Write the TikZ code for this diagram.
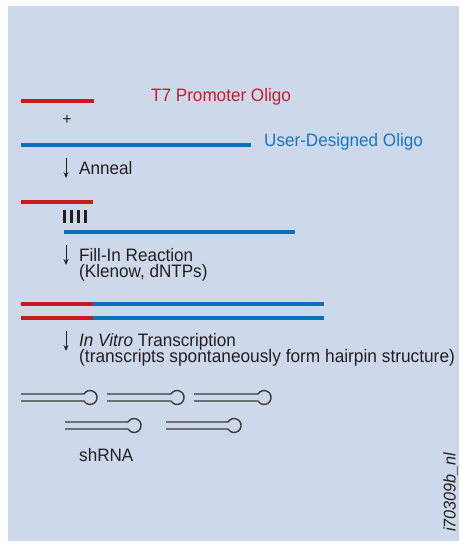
\documentclass[tikz,border=0pt]{standalone}
\usepackage{fontspec}
\setmainfont{Liberation Sans}[FakeStretch=0.95]
\usetikzlibrary{arrows.meta}
\definecolor{bgblue}{HTML}{CDD8EB}
\definecolor{oligored}{HTML}{C8191F}
\definecolor{oligoblue}{HTML}{0B6FBA}
\definecolor{txtred}{HTML}{C41E2A}
\definecolor{txtblue}{HTML}{1B75BC}
\definecolor{ink}{HTML}{231F20}
\definecolor{hpin}{HTML}{3A3A3A}
\begin{document}
\begin{tikzpicture}[x=1pt,y=-1pt,
  redstrand/.style={oligored,line width=4pt},
  bluestrand/.style={oligoblue,line width=4pt},
  lbl/.style={anchor=base west,inner sep=0pt,text=ink,font=\fontsize{18}{16}\selectfont},
  steparrow/.style={ink,line width=1pt,-{Stealth[length=6pt,width=5pt]}},
  hairpin/.style={hpin,line width=1.4pt}]
\useasboundingbox (0,0) rectangle (459,541);
\fill[white] (0,0) rectangle (459,541);
\fill[bgblue] (8,6) rectangle (459,541);
% step 1
\draw[redstrand] (21,101) -- (94,101);
\node[lbl,text=txtred] (t7) at (151,101.5) {T7 Promoter Oligo};
\node[inner sep=0pt,text=ink,font=\fontsize{16}{16}\selectfont] (plus) at (67,120) {+};
\draw[bluestrand] (21,145) -- (251,145);
\node[lbl,text=txtblue] (user) at (264,146.5) {User-Designed Oligo};
\coordinate (a1s) at (66,158); \coordinate (a1e) at (66,178);
\draw[steparrow] (a1s) -- (a1e);
\node[lbl] (anneal) at (79,174) {Anneal};
% step 2
\draw[redstrand] (21,202) -- (93,202);
\foreach \x in {64.5,71.5,78.5,85.5} \draw[ink,line width=3pt] (\x,210) -- (\x,223);
\draw[bluestrand] (64,232) -- (295,232);
\coordinate (a2s) at (66,245); \coordinate (a2e) at (66,265);
\draw[steparrow] (a2s) -- (a2e);
\node[lbl] (fill) at (79,261) {Fill-In Reaction};
\node[lbl] (klenow) at (79,277) {(Klenow, dNTPs)};
% step 3
\draw[redstrand] (21,303.5) -- (93,303.5);
\draw[bluestrand] (93,303.5) -- (324,303.5);
\draw[redstrand] (21,318) -- (93,318);
\draw[bluestrand] (93,318) -- (324,318);
\coordinate (a3s) at (66,331); \coordinate (a3e) at (66,351);
\draw[steparrow] (a3s) -- (a3e);
\node[lbl] (ivt) at (79,346.5) {\textit{In Vitro} Transcription};
\node[lbl,font=\fontsize{18.2}{16}\selectfont] (spont) at (79,362.5) {(transcripts spontaneously form hairpin structure)};
% hairpins
\foreach \xs/\xe/\yc in {21/84/397.5, 107/171/397.5, 194/258/397.5, 65/128/425.5, 166/228/425.5}{
  \draw[hairpin] (\xs,\yc-3.5) -- (\xe,\yc-3.5) arc[start angle=-150,end angle=150,radius=7] -- (\xs,\yc+3.5);
}
\node[lbl] (shrna) at (79,461.5) {shRNA};
\node[anchor=base west,inner sep=0pt,rotate=90,text=ink,font=\fontsize{17}{17}\selectfont\itshape] (code) at (455.5,532) {i70309b\_nl};
\end{tikzpicture}
\end{document}
